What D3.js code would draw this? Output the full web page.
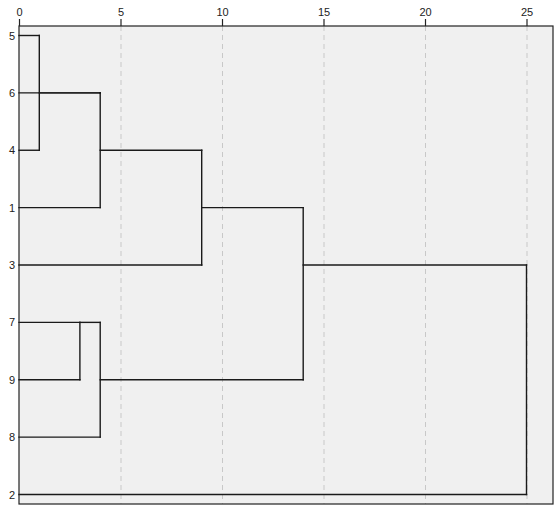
<!DOCTYPE html>
<html><head><meta charset="utf-8">
<script src="https://cdn.jsdelivr.net/npm/d3@7"></script>
<style>body{margin:0;background:#fff;} svg{display:block;font-family:"Liberation Sans",Arial,sans-serif;}</style>
</head><body>
<svg id="c" width="555" height="509"></svg>
<script>
// Leaf order (top to bottom)
const leaves = ["5","6","4","1","3","7","9","8","2"];
// Merges (C1..C8 are clusters created in order)
const mergeLeft   = ["5","C1","C2","C3","7","C5","C4","C7"];
const mergeRight  = ["4","6","1","3","9","8","C6","2"];
const mergeHeight = [1, 4, 4, 9, 3, 4, 14, 25];
const tickValues  = [0, 5, 10, 15, 20, 25];

const svg = d3.select("#c");
const plot = {left: 19, top: 26, right: 553, bottom: 504};

const x = d3.scaleLinear().domain([0, 25]).range([19, 526.5]);
const yLeaf = d3.scalePoint().domain(leaves).range([35.5, 494.5]);
const yRow = d3.scaleLinear().domain([0, leaves.length - 1]).range([35.5, 494.5]);

// background
svg.append("rect").attr("x", plot.left).attr("y", plot.top)
  .attr("width", plot.right - plot.left).attr("height", plot.bottom - plot.top)
  .attr("fill", "#f0f0f0");

// grid lines
svg.append("g").selectAll("line").data(tickValues.filter(d => d > 0)).join("line")
  .attr("x1", d => x(d) + 0.5).attr("x2", d => x(d) + 0.5)
  .attr("y1", plot.top).attr("y2", plot.bottom)
  .attr("stroke", "#c8c8c8").attr("stroke-width", 1).attr("stroke-dasharray", "5,4");

// build nodes
const nodes = {};
leaves.forEach((l, i) => nodes[l] = {row: i, h: 0});
const segs = [];
mergeLeft.forEach((a, i) => {
  const A = nodes[a], B = nodes[mergeRight[i]], h = mergeHeight[i];
  segs.push([A.h, A.row, h, A.row]);
  segs.push([B.h, B.row, h, B.row]);
  segs.push([h, A.row, h, B.row]);
  nodes["C" + (i + 1)] = {row: Math.floor((A.row + B.row) / 2), h: h};
});

svg.append("g").selectAll("line").data(segs).join("line")
  .attr("x1", d => x(d[0])).attr("y1", d => yRow(d[1]))
  .attr("x2", d => x(d[2])).attr("y2", d => yRow(d[3]))
  .attr("stroke", "#1a1a1a").attr("stroke-width", 1.4).attr("stroke-linecap", "square");

// plot border
svg.append("rect").attr("x", plot.left).attr("y", plot.top)
  .attr("width", plot.right - plot.left).attr("height", plot.bottom - plot.top)
  .attr("fill", "none").attr("stroke", "#222").attr("stroke-width", 1.2);

// top axis
const ax = svg.append("g").attr("transform", `translate(0,${plot.top})`)
  .call(d3.axisTop(x).tickValues(tickValues).tickSize(7).tickPadding(3).tickSizeOuter(0));
ax.select(".domain").remove();
ax.selectAll("line").attr("stroke", "#222").attr("stroke-width", 1.2);
ax.selectAll("text").attr("font-size", 11).attr("fill", "#222").attr("font-family", "Liberation Sans, Arial, sans-serif");

// left labels
const ay = svg.append("g").attr("transform", `translate(${plot.left},0)`)
  .call(d3.axisLeft(yLeaf).tickSize(0).tickPadding(4));
ay.select(".domain").remove();
ay.selectAll("text").attr("font-size", 11).attr("fill", "#222").attr("font-family", "Liberation Sans, Arial, sans-serif");
</script>
</body></html>
